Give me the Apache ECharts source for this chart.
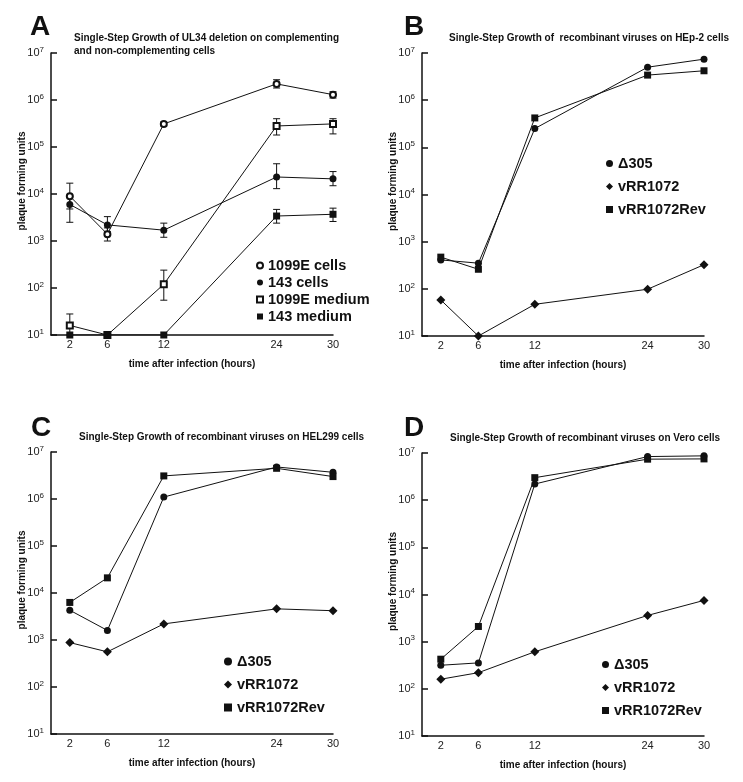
<!DOCTYPE html>
<html>
<head>
<meta charset="utf-8">
<title>Single-Step Growth</title>
<script src="https://cdn.jsdelivr.net/npm/echarts@6/dist/echarts.min.js"></script>
<style>
html,body{margin:0;padding:0;background:#fff;}
#main{width:743px;height:782px;}
</style>
</head>
<body>
<div id="main"></div>
<script>
var hours = [2, 6, 12, 24, 30]
var yTicks = [10, 100, 1000, 10000, 100000, 1000000, 10000000]

// A: UL34 deletion
var a1099Cells = [9000, 1400, 310000, 2200000, 1300000]
var a1099CellsLo = [4800, 1000, 280000, 1800000, 1100000]
var a1099CellsHi = [17000, 1900, 340000, 2700000, 1500000]
var a143Cells = [6000, 2200, 1700, 23000, 21000]
var a143CellsLo = [2500, 1600, 1200, 13000, 15000]
var a143CellsHi = [9000, 3300, 2400, 44000, 30000]
var a1099Medium = [16, 10, 120, 280000, 310000]
var a1099MediumLo = [10, 10, 55, 180000, 190000]
var a1099MediumHi = [28, 10, 240, 400000, 400000]
var a143Medium = [10, 10, 10, 3400, 3700]
var a143MediumLo = [10, 10, 10, 2400, 2600]
var a143MediumHi = [10, 10, 10, 4700, 5000]

// B: HEp-2
var bD305 = [410, 350, 250000, 5000000, 7400000]
var bRR1072 = [58, 10, 47, 98, 325]
var bRev = [470, 260, 420000, 3400000, 4200000]

// C: HEL299
var cD305 = [4300, 1600, 1100000, 4800000, 3700000]
var cRR1072 = [880, 560, 2200, 4600, 4200]
var cRev = [6300, 21000, 3100000, 4500000, 3000000]

// D: Vero
var dD305 = [316, 355, 2200000, 8400000, 8700000]
var dRR1072 = [160, 220, 610, 3600, 7500]
var dRev = [425, 2100, 3000000, 7400000, 7500000]

var FONT = '"Liberation Sans", Arial, Helvetica, sans-serif'

function pairs(ys) {
	var out = []
	for (var i = 0; i < hours.length; i++) out.push([hours[i], ys[i]])
	return out
}
function bars(lo, hi) {
	var out = []
	for (var i = 0; i < hours.length; i++) {
		if (hi[i] > lo[i]) out.push([hours[i], lo[i], hi[i]])
	}
	return out
}

var grids = [
	{left: 51, top: 53, width: 282, height: 282},
	{left: 422, top: 53, width: 282, height: 283},
	{left: 51, top: 452, width: 282, height: 282},
	{left: 422, top: 453, width: 282, height: 283}
]

var xAxes = [], yAxes = []
for (var g = 0; g < 4; g++) {
	xAxes.push({
		type: 'value', gridIndex: g, min: 0, max: 30,
		name: 'time after infection (hours)', nameLocation: 'middle', nameGap: 24,
		nameTextStyle: {fontFamily: FONT, fontWeight: 'bold', fontSize: 10, color: '#111'},
		axisLine: {lineStyle: {color: '#111', width: 1.5}},
		axisTick: {show: false},
		splitLine: {show: false},
		axisLabel: {customValues: hours, margin: 4, fontFamily: FONT, fontSize: 11, color: '#222'}
	})
	yAxes.push({
		type: 'log', logBase: 10, gridIndex: g, min: 10, max: 10000000,
		name: 'plaque forming units', nameLocation: 'middle', nameGap: 24, nameMoveOverlap: false,
		nameTextStyle: {fontFamily: FONT, fontWeight: 'bold', fontSize: 10, color: '#111', padding: [0, 0, 0, 26]},
		axisLine: {show: true, lineStyle: {color: '#111', width: 1.5}},
		axisTick: {inside: true, length: 6, lineStyle: {color: '#111', width: 1.5}},
		splitLine: {show: false},
		axisLabel: {
			margin: 7, fontFamily: FONT, fontSize: 11, color: '#222',
			formatter: function (v) { return '10{s|' + Math.round(Math.log10(v)) + '}' },
			rich: {s: {fontSize: 8, fontFamily: FONT, color: '#222', padding: [0, 0, 7, 0]}}
		}
	})
}

function line(name, g, ys, symbol, size) {
	var empty = symbol.indexOf('empty') == 0
	return {
		type: 'line', name: name, xAxisIndex: g, yAxisIndex: g,
		data: pairs(ys), symbol: symbol, symbolSize: size,
		showSymbol: true, animation: false, z: 3,
		lineStyle: {color: '#111', width: 1},
		itemStyle: {color: '#111', borderColor: '#111', borderWidth: empty ? 1 : 0}
	}
}
function errs(g, lo, hi) {
	return {
		type: 'custom', xAxisIndex: g, yAxisIndex: g, z: 2, silent: true,
		data: bars(lo, hi), encode: {x: 0, y: [1, 2]},
		renderItem: function (params, api) {
			var top = api.coord([api.value(0), api.value(2)])
			var bot = api.coord([api.value(0), api.value(1)])
			var st = {stroke: '#111', lineWidth: 1}
			return {type: 'group', children: [
				{type: 'line', shape: {x1: top[0], y1: top[1], x2: bot[0], y2: bot[1]}, style: st},
				{type: 'line', shape: {x1: top[0] - 3.5, y1: top[1], x2: top[0] + 3.5, y2: top[1]}, style: st},
				{type: 'line', shape: {x1: bot[0] - 3.5, y1: bot[1], x2: bot[0] + 3.5, y2: bot[1]}, style: st}
			]}
		}
	}
}

var series = [
	errs(0, a1099CellsLo, a1099CellsHi),
	errs(0, a143CellsLo, a143CellsHi),
	errs(0, a1099MediumLo, a1099MediumHi),
	errs(0, a143MediumLo, a143MediumHi),
	line('1099E cells', 0, a1099Cells, 'emptyCircle', 6),
	line('143 cells', 0, a143Cells, 'circle', 7),
	line('1099E medium', 0, a1099Medium, 'emptyRect', 6),
	line('143 medium', 0, a143Medium, 'rect', 7),
	line('\u0394305', 1, bD305, 'circle', 7),
	line('vRR1072', 1, bRR1072, 'diamond', 9),
	line('vRR1072Rev', 1, bRev, 'rect', 7),
	line('\u0394305', 2, cD305, 'circle', 7),
	line('vRR1072', 2, cRR1072, 'diamond', 9),
	line('vRR1072Rev', 2, cRev, 'rect', 7),
	line('\u0394305', 3, dD305, 'circle', 7),
	line('vRR1072', 3, dRR1072, 'diamond', 9),
	line('vRR1072Rev', 3, dRev, 'rect', 7)
]

function legend(left, top, lh, size, items) {
	return {
		left: left, top: top, orient: 'vertical', itemGap: 0,
		itemWidth: size, itemHeight: size, selectedMode: false,
		textStyle: {fontFamily: FONT, fontWeight: 'bold', fontSize: 14.5, color: '#111', lineHeight: lh},
		data: items
	}
}
var virusItems = [
	{name: '\u0394305', icon: 'circle'},
	{name: 'vRR1072', icon: 'diamond'},
	{name: 'vRR1072Rev', icon: 'rect'}
]

function heading(text, left, top) {
	return {text: text, left: left, top: top, padding: 0,
		textStyle: {fontFamily: FONT, fontWeight: 'bold', fontSize: 28, color: '#111'}}
}
function sub(text, left, top) {
	return {text: text, left: left, top: top, padding: 0,
		textStyle: {fontFamily: FONT, fontWeight: 'bold', fontSize: 10, lineHeight: 13, color: '#111'}}
}

var chart = echarts.init(document.getElementById('main'), null, {renderer: 'canvas'})
chart.setOption({
	backgroundColor: '#fff',
	animation: false,
	title: [
		heading('A', 30, 13), heading('B', 404, 13), heading('C', 31, 414), heading('D', 404, 414),
		sub('Single-Step Growth of UL34 deletion on complementing\nand non-complementing cells', 74, 32),
		sub('Single-Step Growth of  recombinant viruses on HEp-2 cells', 449, 32),
		sub('Single-Step Growth of recombinant viruses on HEL299 cells', 79, 431),
		sub('Single-Step Growth of recombinant viruses on Vero cells', 450, 432)
	],
	legend: [
		legend(251, 252, 17, 6, [
			{name: '1099E cells', icon: 'emptyCircle', itemStyle: {color: '#111', borderColor: '#111', borderWidth: 1}},
			{name: '143 cells', icon: 'circle'},
			{name: '1099E medium', icon: 'emptyRect', itemStyle: {color: '#111', borderColor: '#111', borderWidth: 1}},
			{name: '143 medium', icon: 'rect'}
		]),
		legend(601, 147, 23, 7, virusItems),
		legend(219, 645, 23, 8, virusItems),
		legend(597, 648, 23, 7, virusItems)
	],
	grid: grids,
	xAxis: xAxes,
	yAxis: yAxes,
	series: series
})
</script>
</body>
</html>
